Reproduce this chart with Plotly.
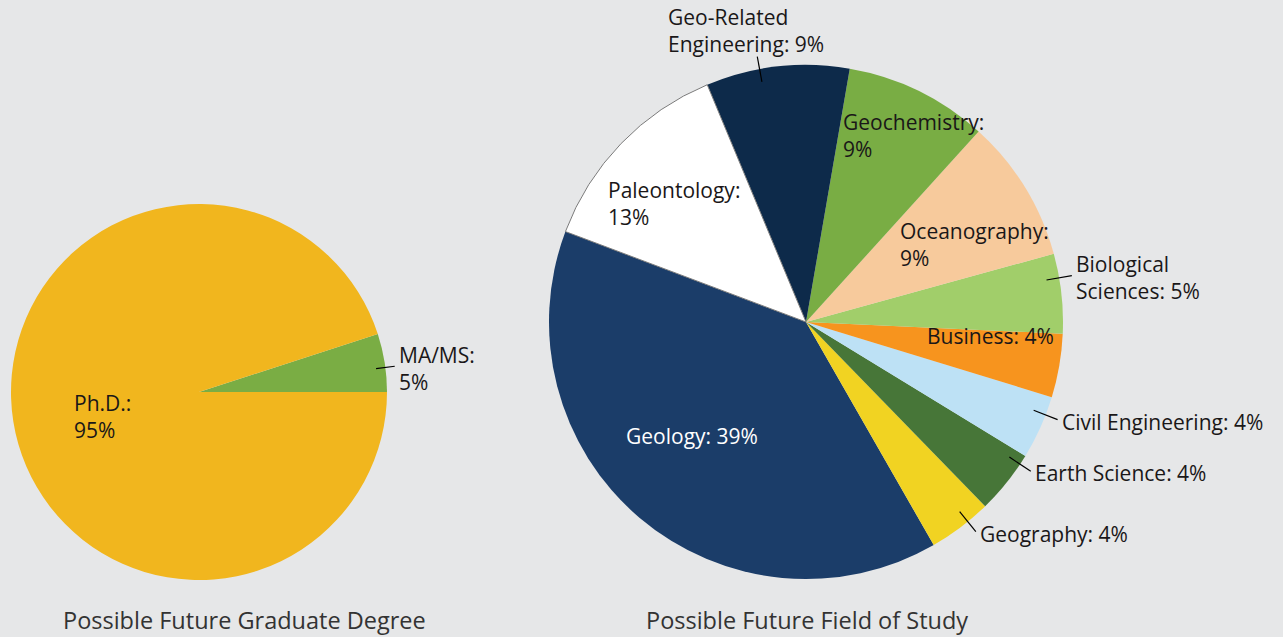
import math
import plotly.graph_objects as go

# ---- data ----
degree_labels = ["MA/MS", "Ph.D."]
degree_values = [5, 95]

field_labels = ["Geology", "Geography", "Earth Science", "Civil Engineering", "Business",
                "Biological Sciences", "Oceanography", "Geochemistry",
                "Geo-Related Engineering", "Paleontology"]
field_values = [39, 4, 4, 4, 4, 5, 9, 9, 9, 13]

# ---- page geometry (pixels) ----
W, H = 1283, 637
BG = "#e6e7e8"
TXT = "#1a1718"
FONT = "Open Sans"
FS = 21

LEFT = dict(cx=199, cy=392, R=188, start=0.0)
RIGHT = dict(cx=806, cy=322, R=257, start=159.4)

degree_colors = ["#7aad44", "#f1b61e"]
field_colors = ["#1b3d69", "#f1d322", "#477638", "#bde1f5", "#f7941e",
                "#a1ce6a", "#f7ca9c", "#79ad44", "#0d2a4a", "#ffffff"]

# label placement per slice: (kind, display text, angle nudge deg, radius factor, colour)
degree_text = {
    "MA/MS": ("out", "MA/MS:<br>5%", -1.5, None, TXT),
    "Ph.D.": ("in", "Ph.D.:<br>95%", 5.5, 0.53, TXT),
}
field_text = {
    "Geology": ("in", "Geology: 39%", -4.6, 0.63, "#ffffff"),
    "Geography": ("out", "Geography: 4%", 2.0, None, TXT),
    "Earth Science": ("out", "Earth Science: 4%", 5.0, None, TXT),
    "Civil Engineering": ("out", "Civil Engineering: 4%", 3.0, None, TXT),
    "Business": ("in", "Business: 4%", 5.4, 0.72, TXT),
    "Biological Sciences": ("out", "Biological<br>Sciences: 5%", 3.5, None, TXT),
    "Oceanography": ("in", "Oceanography:<br>9%", -6.9, 0.72, TXT),
    "Geochemistry": ("in", "Geochemistry:<br>9%", -4.0, 0.84, TXT),
    "Geo-Related Engineering": ("top", "Geo-Related<br>Engineering: 9%", 4.0, None, TXT),
    "Paleontology": ("in", "Paleontology:<br>13%", 2.0, 0.69, TXT),
}


def to_paper(x, y):
    return x / W, 1 - y / H


def domain(g):
    x0, y0 = to_paper(g["cx"] - g["R"], g["cy"] + g["R"])
    x1, y1 = to_paper(g["cx"] + g["R"], g["cy"] - g["R"])
    return dict(x=[x0, x1], y=[y0, y1])


def polar(g, ang, rf):
    a = math.radians(ang)
    return g["cx"] + rf * g["R"] * math.cos(a), g["cy"] - rf * g["R"] * math.sin(a)


def mid_angles(g, values):
    total = sum(values)
    out, cum = [], 0.0
    for v in values:
        out.append(g["start"] + 360.0 * (cum + v / 2.0) / total)
        cum += v
    return out


def ccw_rotation(g, values):
    # plotly places the first counterclockwise slice clockwise of `rotation`,
    # so shift by the first slice's sweep to make it begin at g["start"]
    first = 360.0 * values[0] / sum(values)
    rot = 90.0 - g["start"] - first
    return (rot + 360.0) % 360.0 if rot < -360 or rot > 360 else rot


fig = go.Figure()

fig.add_trace(go.Pie(
    labels=degree_labels, values=degree_values, sort=False,
    direction="counterclockwise", rotation=ccw_rotation(LEFT, degree_values),
    marker=dict(colors=degree_colors, line=dict(width=0)),
    textinfo="none", hoverinfo="label+percent", showlegend=False,
    domain=domain(LEFT),
))

fig.add_trace(go.Pie(
    labels=field_labels, values=field_values, sort=False,
    direction="counterclockwise", rotation=ccw_rotation(RIGHT, field_values),
    marker=dict(colors=field_colors,
                line=dict(color="#7a7a7a",
                          width=[1 if c == "#ffffff" else 0 for c in field_colors])),
    textinfo="none", hoverinfo="label+percent", showlegend=False,
    domain=domain(RIGHT),
))

annotations, shapes = [], []


def place_labels(g, labels, values, spec):
    for lab, ang in zip(labels, mid_angles(g, values)):
        kind, text, nudge, rf, col = spec[lab]
        a = ang + nudge
        font = dict(family=FONT, size=FS, color=col)
        if kind == "in":
            x, y = polar(g, a, rf)
            px, py = to_paper(x, y)
            annotations.append(dict(x=px, y=py, xref="paper", yref="paper", text=text,
                                    showarrow=False, align="left", xanchor="center",
                                    yanchor="middle", font=font))
            continue
        x0, y0 = polar(g, a, 0.95)
        x1, y1 = polar(g, a, 1.05)
        p0, p1 = to_paper(x0, y0), to_paper(x1, y1)
        shapes.append(dict(type="line", xref="paper", yref="paper",
                           x0=p0[0], y0=p0[1], x1=p1[0], y1=p1[1],
                           line=dict(color="#000000", width=1.2)))
        if kind == "top":
            tx, ty = to_paper(x1 - 11, y1 + 3)
            annotations.append(dict(x=tx, y=ty, xref="paper", yref="paper", text=text,
                                    showarrow=False, align="left", xanchor="center",
                                    yanchor="bottom", font=font))
        else:
            tx, ty = to_paper(x1 + 2, y1 + 2)
            annotations.append(dict(x=tx, y=ty, xref="paper", yref="paper", text=text,
                                    showarrow=False, align="left", xanchor="left",
                                    yanchor="middle", font=font))


place_labels(LEFT, degree_labels, degree_values, degree_text)
place_labels(RIGHT, field_labels, field_values, field_text)

# chart captions
for text, cx in [("Possible Future Graduate Degree", 244), ("Possible Future Field of Study", 807)]:
    tx, ty = to_paper(cx, 620)
    annotations.append(dict(x=tx, y=ty, xref="paper", yref="paper", text=text,
                            showarrow=False, xanchor="center", yanchor="middle",
                            font=dict(family=FONT, size=23.5, color="#333333")))

fig.update_layout(
    width=W, height=H,
    margin=dict(l=0, r=0, t=0, b=0),
    paper_bgcolor=BG, plot_bgcolor=BG,
    annotations=annotations, shapes=shapes,
)

fig.write_html("out.html")
